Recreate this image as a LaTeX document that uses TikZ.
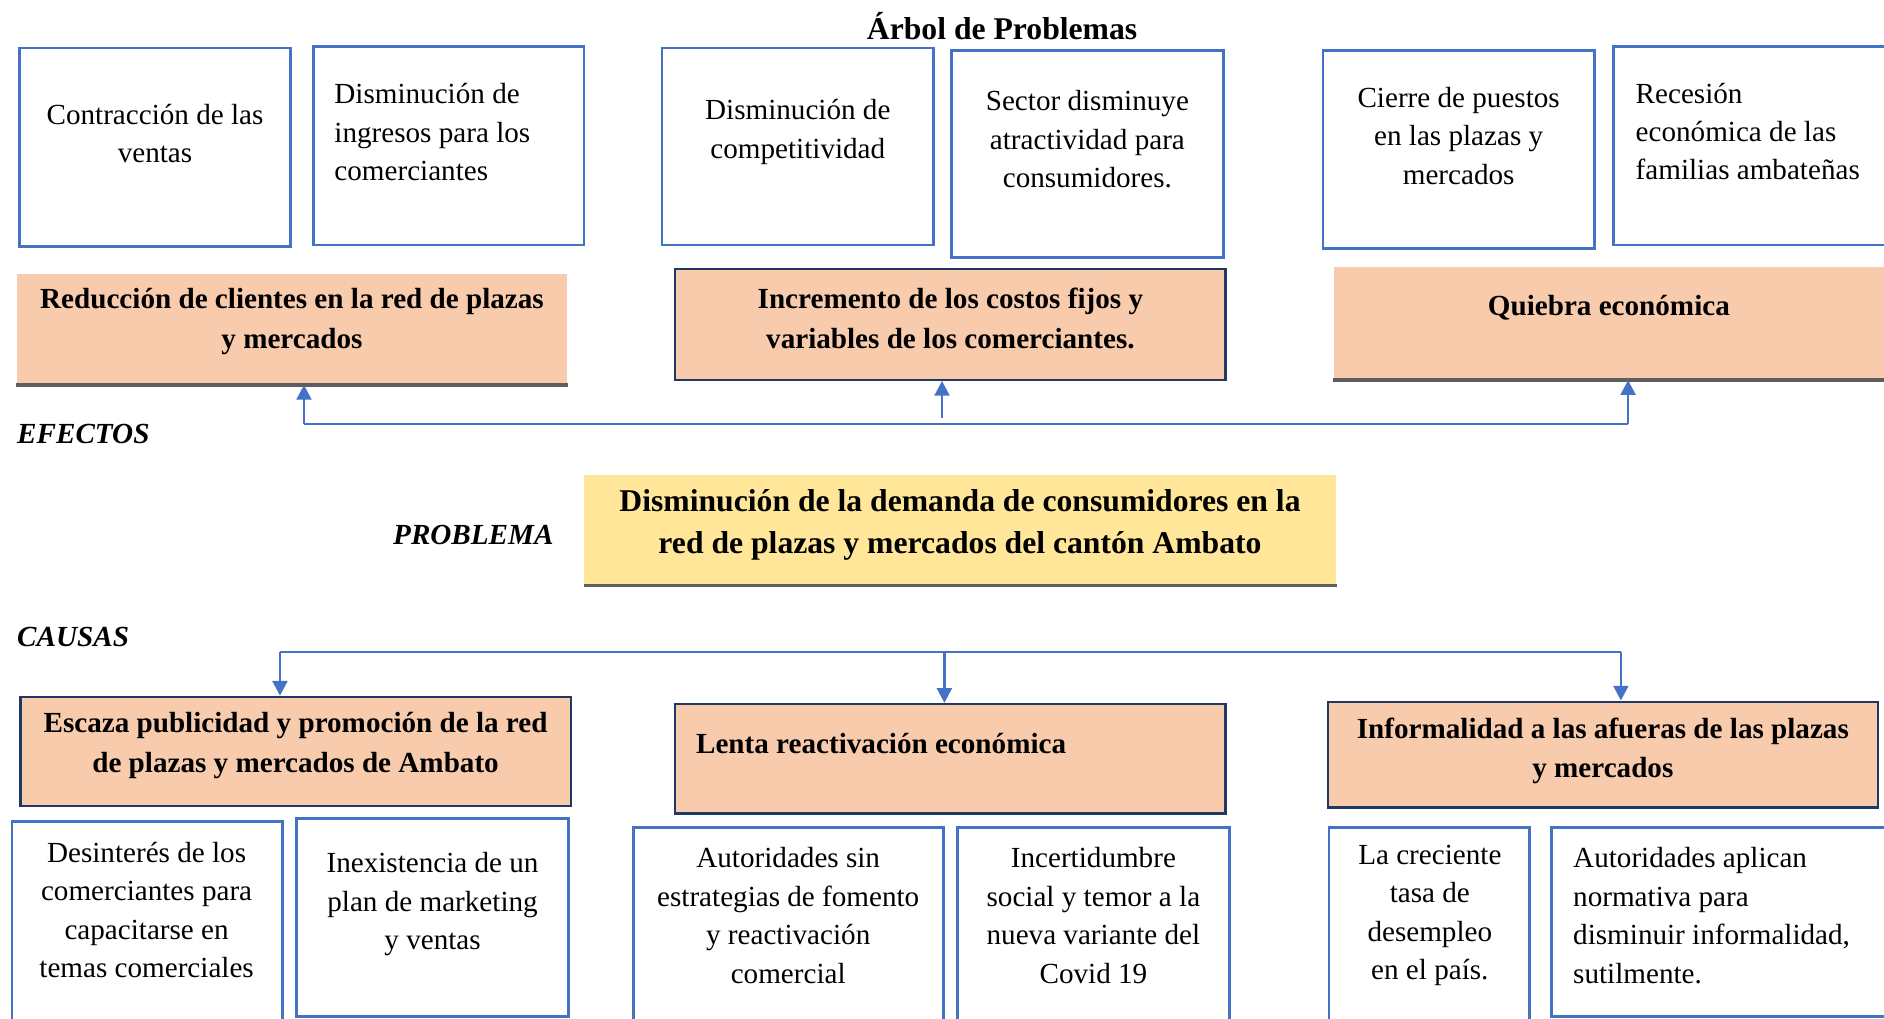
\documentclass[tikz,border=0pt]{standalone}
\usepackage{fontspec}
\setmainfont{Liberation Serif}
\usepackage{xcolor}
\usetikzlibrary{arrows.meta}

\definecolor{lineblue}{HTML}{4472C4}
\definecolor{peach}{HTML}{F8CBAD}
\definecolor{sand}{HTML}{FFE699}
\definecolor{navy}{HTML}{1F3864}
\definecolor{shelfgrey}{HTML}{5E5E5E}

\begin{document}
\begin{tikzpicture}[x=0.02cm,y=-0.02cm,
  dims/.style 2 args={minimum width=#1*0.02cm,minimum height=#2*0.02cm},
  wbox/.style={draw=lineblue,line width=1.3pt,fill=white,inner sep=0pt},
  rbox/.style={draw=navy,line width=1.1pt,fill=peach,inner sep=0pt},
  fbox/.style={fill=peach,inner sep=0pt},
  txt/.style={inner sep=0pt,align=center,font=\fontsize{13.8}{18.2}\selectfont},
  btxt/.style={txt,font=\fontsize{13.8}{18.8}\selectfont\bfseries},
  tag/.style={inner sep=0pt,font=\fontsize{13.8}{16}\selectfont\bfseries\itshape},
  link/.style={draw=lineblue,line width=0.9pt},
  arr/.style={link,line width=1.3pt,->,>={Triangle[width=7pt,length=7pt]}},
  shelf/.style={draw=shelfgrey,line width=1.8pt}]
\clip (0,0) rectangle (1568,848);

\node[inner sep=0pt,font=\fontsize{15}{18}\selectfont\bfseries] (title) at (834,22) {Árbol de Problemas};

% efectos
\node[wbox,dims={226}{165}] (t1) at (129,122.5) {};
\node[wbox,dims={225}{165}] (t2) at (373.5,121.5) {};
\node[wbox,dims={226}{164}] (t3) at (664,122) {};
\node[wbox,dims={226}{172}] (t4) at (905,128) {};
\node[wbox,dims={226}{165}] (t5) at (1214,124.5) {};
\node[wbox,dims={237}{165}] (t6) at (1461.5,121.5) {};
\node[txt] (t1txt) at (129,111) {Contracción de las\\ventas};
\node[txt,align=left,anchor=west] (t2txt) at (278,110) {Disminución de\\ingresos para los\\comerciantes};
\node[txt] (t3txt) at (664,110) {Disminución de\\competitividad};
\node[txt] (t4txt) at (905,116) {Sector disminuye\\atractividad para\\consumidores.};
\node[txt] (t5txt) at (1214,113) {Cierre de puestos\\en las plazas y\\mercados};
\node[txt,align=left,anchor=west] (t6txt) at (1361,109.5) {Recesión\\económica de las\\familias ambateñas};

\node[fbox,dims={458}{92}] (e1) at (243,274) {};
\node[rbox,dims={458}{92}] (e2) at (791,270) {};
\node[fbox,dims={470}{94}] (e3) at (1345,269) {};
\foreach \b in {e1,e3} \draw[shelf] (\b.south west) -- (\b.south east);
\node[btxt] (e1txt) at (243,267.5) {Reducción de clientes en la red de plazas\\y mercados};
\node[btxt] (e2txt) at (791,265) {Incremento de los costos fijos y\\variables de los comerciantes.};
\node[btxt] (e3txt) at (1339,256) {Quiebra económica};

\coordinate (ef1) at (253,353);
\coordinate (ef2) at (784,348);
\coordinate (ef3) at (1355,353);
\draw[link] (ef1) -- (ef3);
\foreach \i in {1,2,3} \draw[arr] (ef\i) -- (ef\i |- e\i.south);

\node[tag,anchor=west] (efectos) at (14,361) {EFECTOS};

% problema
\node[tag,anchor=east] (problema) at (461,445) {PROBLEMA};
\node[fill=sand,inner sep=0pt,dims={626}{92}] (p) at (799,441) {};
\draw[shelf] (p.south west) -- (p.south east);
\node[btxt,font=\fontsize{15}{19.9}\selectfont\bfseries] (ptxt) at (799,436.5) {Disminución de la demanda de consumidores en la\\red de plazas y mercados del cantón Ambato};

% causas
\node[tag,anchor=west] (causas) at (14,530) {CAUSAS};

\node[rbox,dims={458}{91}] (c1) at (246,625.5) {};
\node[rbox,dims={458}{91}] (c2) at (791,631.5) {};
\node[rbox,dims={458}{88}] (c3) at (1334,628) {};
\node[btxt] (c1txt) at (246,620.5) {Escaza publicidad y promoción de la red\\de plazas y mercados de Ambato};
\node[btxt,anchor=west] (c2txt) at (579,619) {Lenta reactivación económica};
\node[btxt] (c3txt) at (1334,625) {Informalidad a las afueras de las plazas\\y mercados};

\coordinate (cs1) at (233,543);
\coordinate (cs2) at (786,543);
\coordinate (cs3) at (1349,543);
\draw[link] (cs1) -- (cs3);
\foreach \i in {1,2,3} \draw[arr] (cs\i) -- (cs\i |- c\i.north);

\node[wbox,dims={225}{196}] (b1) at (122.5,782) {};
\node[wbox,dims={226}{165}] (b2) at (360,763.5) {};
\node[wbox,dims={258}{191}] (b3) at (656,784.5) {};
\node[wbox,dims={226}{191}] (b4) at (910,784.5) {};
\node[wbox,dims={167}{191}] (b5) at (1189.5,784.5) {};
\node[wbox,dims={289}{157}] (b6) at (1435.5,767.5) {};
\node[txt] (b1txt) at (122,757.5) {Desinterés de los\\comerciantes para\\capacitarse en\\temas comerciales};
\node[txt] (b2txt) at (360,752.5) {Inexistencia de un\\plan de marketing\\y ventas};
\node[txt] (b3txt) at (656,762) {Autoridades sin\\estrategias de fomento\\y reactivación\\comercial};
\node[txt] (b4txt) at (910,762) {Incertidumbre\\social y temor a la\\nueva variante del\\Covid 19};
\node[txt] (b5txt) at (1190,762) {La creciente\\tasa de\\desempleo\\en el país.};
\node[txt,align=left,anchor=west] (b6txt) at (1309,762) {Autoridades aplican\\normativa para\\disminuir informalidad,\\sutilmente.};
\end{tikzpicture}
\end{document}
